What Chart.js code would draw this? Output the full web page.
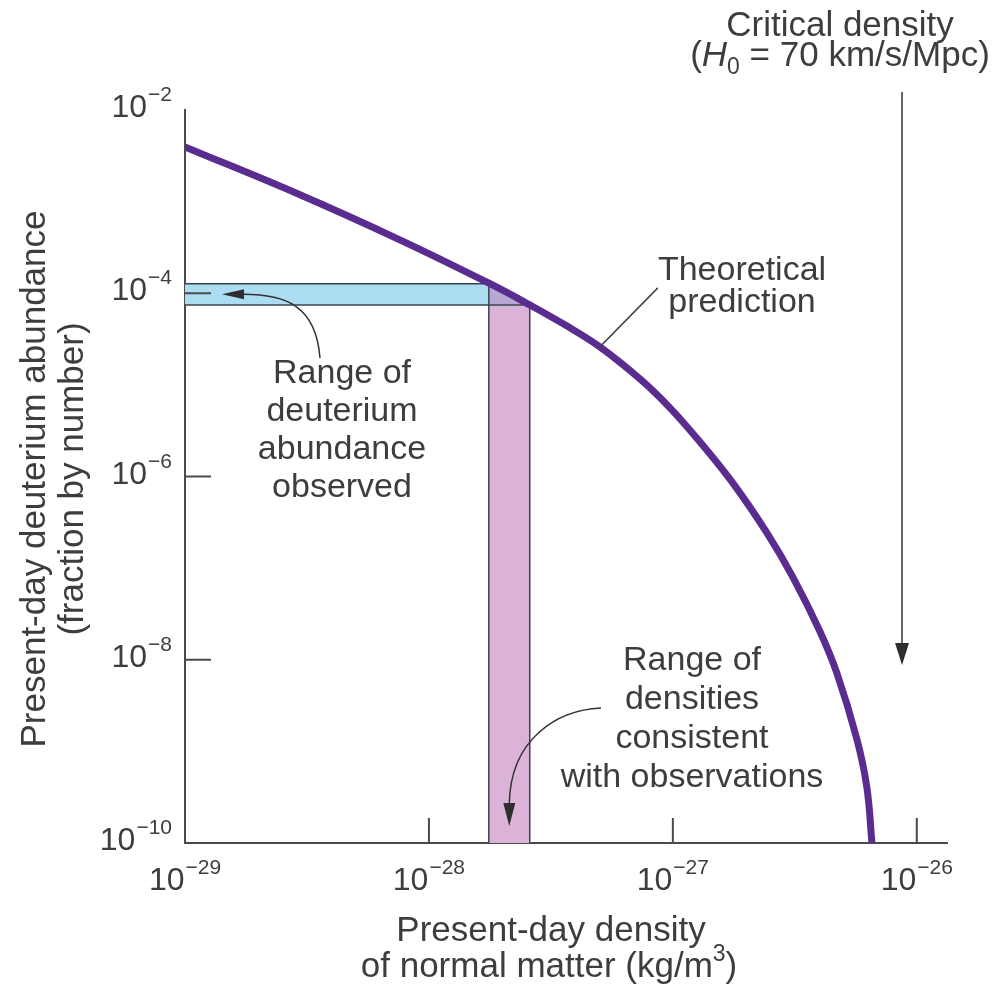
<!DOCTYPE html>
<html>
<head>
<meta charset="utf-8">
<style>
  html, body { margin: 0; padding: 0; background: #fff; }
  canvas { display: block; }
</style>
<script src="https://cdn.jsdelivr.net/npm/chart.js@4.4.0/dist/chart.umd.min.js"></script>
</head>
<body>
<canvas id="chart" width="994" height="985"></canvas>
<script>
// values (both axes logarithmic)

// theoretical prediction curve
const densityTheory   = [1.0e-29, 2.96e-29, 7.6e-29, 1.78e-28, 2.59e-28, 3.61e-28, 5.02e-28, 7.33e-28,
                         9.73e-28, 1.29e-27, 1.76e-27, 2.43e-27, 3.10e-27, 4.00e-27, 4.70e-27, 5.68e-27,
                         6.24e-27, 6.55e-27]
const deuteriumTheory = [3.96e-3, 1.19e-3, 3.83e-4, 1.27e-4, 7.46e-5, 4.52e-5, 2.60e-5, 1.16e-5,
                         5.61e-6, 2.39e-6, 8.51e-7, 2.42e-7, 8.02e-8, 2.06e-8, 7.18e-9, 1.36e-9,
                         4.08e-10, 1.0e-10]

// observed ranges  [low, high]
const deuteriumObserved = [7.46e-5, 1.27e-4]
const densityConsistent = [1.76e-28, 2.59e-28]

const criticalDensity = 8.7e-27   // H0 = 70 km/s/Mpc

const xTicks = [1e-29, 1e-28, 1e-27, 1e-26]
const yTicks = [1e-10, 1e-8, 1e-6, 1e-4, 1e-2]
const xRange = [1e-29, 1.33e-26]
const yRange = [1e-10, 1e-2]

const FONT = '"Liberation Sans", Arial, Helvetica, sans-serif'
const TEXT = '#3d3d3d'
const LINE = '#3a4450'

const pts = (xs, ys) => xs.map((x, i) => ({ x: x, y: ys[i] }))
const [dLo, dHi] = deuteriumObserved
const [rLo, rHi] = densityConsistent

function outline(data) {
    return { data: data, borderColor: LINE, borderWidth: 1.5, pointRadius: 0, fill: false, tension: 0, order: 1 }
}

// "10" with a raised exponent
function powLabel(ctx, v, x, y, align) {
    const exp = Math.round(Math.log10(v))
    const sup = (exp < 0 ? '\u2212' : '') + Math.abs(exp)
    ctx.font = '32px ' + FONT
    const wb = ctx.measureText('10').width
    ctx.font = '21px ' + FONT
    const ws = ctx.measureText(sup).width
    const total = wb + 1 + ws
    const left = align === 'right' ? x - total : x - total / 2
    ctx.textAlign = 'left'
    ctx.font = '32px ' + FONT
    ctx.fillText('10', left, y)
    ctx.font = '21px ' + FONT
    ctx.fillText(sup, left + wb + 1, y - 16)
}

function lines(ctx, arr, x, y0, step, size) {
    ctx.font = size + 'px ' + FONT
    ctx.textAlign = 'center'
    arr.forEach((s, i) => ctx.fillText(s, x, y0 + i * step))
}

function arrowHead(ctx, tipX, tipY, dir, len, half) {
    // dir: 'down' or 'left'
    ctx.beginPath()
    ctx.moveTo(tipX, tipY)
    if (dir === 'down') {
        ctx.lineTo(tipX - half, tipY - len)
        ctx.lineTo(tipX + half, tipY - len)
    } else {
        ctx.lineTo(tipX + len, tipY - half)
        ctx.lineTo(tipX + len, tipY + half)
    }
    ctx.closePath()
    ctx.fill()
}

const decorations = {
    id: 'decorations',
    afterDraw(chart) {
        const ctx = chart.ctx
        const xs = chart.scales.x
        const ys = chart.scales.y
        const area = chart.chartArea
        ctx.save()
        ctx.fillStyle = TEXT
        ctx.strokeStyle = '#4a4a4a'
        ctx.textBaseline = 'alphabetic'

        // inner tick marks
        ctx.lineWidth = 2
        xTicks.forEach(v => {
            if (v === xRange[0]) return
            const px = xs.getPixelForValue(v)
            ctx.beginPath(); ctx.moveTo(px, area.bottom); ctx.lineTo(px, area.bottom - 25); ctx.stroke()
        })
        yTicks.forEach(v => {
            if (v === yRange[0] || v === yRange[1]) return
            const py = ys.getPixelForValue(v)
            ctx.beginPath(); ctx.moveTo(area.left, py); ctx.lineTo(area.left + 26, py); ctx.stroke()
        })

        // tick labels
        xTicks.forEach(v => powLabel(ctx, v, xs.getPixelForValue(v), area.bottom + 47, 'center'))
        yTicks.forEach(v => powLabel(ctx, v, area.left - 13, ys.getPixelForValue(v) + 7, 'right'))

        // x title
        ctx.font = '35px ' + FONT
        ctx.textAlign = 'center'
        ctx.fillText('Present-day density', 551, 941)
        const t1 = 'of normal matter (kg/m', t2 = '3', t3 = ')'
        const w1 = ctx.measureText(t1).width, w3 = ctx.measureText(t3).width
        ctx.font = '23px ' + FONT
        const w2 = ctx.measureText(t2).width
        let lx = 549 - (w1 + w2 + w3) / 2
        ctx.textAlign = 'left'
        ctx.font = '35px ' + FONT
        ctx.fillText(t1, lx, 977)
        ctx.font = '23px ' + FONT
        ctx.fillText(t2, lx + w1, 961)
        ctx.font = '35px ' + FONT
        ctx.fillText(t3, lx + w1 + w2, 977)

        // y title
        ctx.save()
        ctx.translate(0, 479)
        ctx.rotate(-Math.PI / 2)
        ctx.textAlign = 'center'
        ctx.font = '35px ' + FONT
        ctx.fillText('Present-day deuterium abundance', 0, 45)
        ctx.fillText('(fraction by number)', 0, 83)
        ctx.restore()

        // annotations
        lines(ctx, ['Theoretical', 'prediction'], 742, 280, 32, 34)
        lines(ctx, ['Range of', 'deuterium', 'abundance', 'observed'], 342, 383, 38, 34)
        lines(ctx, ['Range of', 'densities', 'consistent', 'with observations'], 692, 670, 39, 34)
        lines(ctx, ['Critical density'], 840, 36, 0, 35)

        // (H0 = 70 km/s/Mpc)
        const pA = '(', pH = 'H', p0 = '0', pB = ' = 70 km/s/Mpc)'
        ctx.font = '35px ' + FONT
        const wA = ctx.measureText(pA).width, wB = ctx.measureText(pB).width
        ctx.font = 'italic 35px ' + FONT
        const wH = ctx.measureText(pH).width
        ctx.font = '23px ' + FONT
        const w0 = ctx.measureText(p0).width
        let hx = 840 - (wA + wH + w0 + wB) / 2
        ctx.textAlign = 'left'
        ctx.font = '35px ' + FONT; ctx.fillText(pA, hx, 66); hx += wA
        ctx.font = 'italic 35px ' + FONT; ctx.fillText(pH, hx, 66); hx += wH
        ctx.font = '23px ' + FONT; ctx.fillText(p0, hx, 74); hx += w0
        ctx.font = '35px ' + FONT; ctx.fillText(pB, hx, 66)

        // arrows
        ctx.strokeStyle = '#333'
        ctx.fillStyle = '#2e2e2e'
        ctx.lineWidth = 1.5

        const cx = xs.getPixelForValue(criticalDensity)
        ctx.beginPath(); ctx.moveTo(cx, 92); ctx.lineTo(cx, 645); ctx.stroke()
        arrowHead(ctx, cx, 665, 'down', 22, 7)

        const dy = ys.getPixelForValue(Math.sqrt(dLo * dHi))
        ctx.beginPath(); ctx.moveTo(320, 358); ctx.bezierCurveTo(316, 305, 285, dy, 243, dy); ctx.stroke()
        arrowHead(ctx, area.left + 37, dy, 'left', 22, 5)

        const rx = xs.getPixelForValue(Math.sqrt(rLo * rHi))
        ctx.beginPath(); ctx.moveTo(601, 708); ctx.bezierCurveTo(558, 710, rx + 1, 738, rx, 804); ctx.stroke()
        arrowHead(ctx, rx, 826, 'down', 23, 6)

        // leader to the curve
        const p = chart.getDatasetMeta(0).data[6]
        ctx.strokeStyle = '#444'
        ctx.beginPath(); ctx.moveTo(p.x, p.y); ctx.lineTo(p.x + 58, p.y - 59); ctx.stroke()

        ctx.restore()
    }
}

new Chart(document.getElementById('chart'), {
    type: 'line',
    data: {
        datasets: [
            {
                label: 'Theoretical prediction',
                data: pts(densityTheory, deuteriumTheory),
                borderColor: '#5b2c8f',
                borderWidth: 7,
                pointRadius: 0,
                tension: 0.4,
                fill: false,
                order: 0
            },
            // band outlines
            outline([{ x: xRange[0], y: dHi }, { x: rLo, y: dHi }]),
            outline([{ x: xRange[0], y: dLo }, { x: rHi, y: dLo }]),
            outline([{ x: rLo, y: dHi }, { x: rLo, y: yRange[0] }]),
            outline([{ x: rHi, y: dLo }, { x: rHi, y: yRange[0] }]),
            // overlap of both ranges
            {
                data: [{ x: rLo, y: dHi }, { x: rHi, y: dLo }],
                fill: { value: dLo },
                backgroundColor: '#b5a8d5',
                borderWidth: 0, pointRadius: 0, tension: 0, order: 2
            },
            // densities consistent with observations
            {
                data: [{ x: rLo, y: dHi }, { x: rHi, y: dLo }],
                fill: 'start',
                backgroundColor: '#dbb3d8',
                borderWidth: 0, pointRadius: 0, tension: 0, order: 3
            },
            // deuterium abundance observed
            {
                data: [{ x: xRange[0], y: dHi }, { x: rLo, y: dHi }, { x: rHi, y: dLo }],
                fill: { value: dLo },
                backgroundColor: '#abdcf2',
                borderWidth: 0, pointRadius: 0, tension: 0, order: 4
            }
        ]
    },
    options: {
        responsive: false,
        animation: false,
        devicePixelRatio: 1,
        events: [],
        layout: { padding: { left: 185, top: 110, right: 47, bottom: 142 } },
        plugins: { legend: { display: false }, tooltip: { enabled: false } },
        scales: {
            x: {
                type: 'logarithmic',
                min: xRange[0], max: xRange[1],
                z: 1,
                afterBuildTicks: s => { s.ticks = xTicks.map(v => ({ value: v })) },
                ticks: { display: false },
                grid: { display: false, drawTicks: false },
                border: { display: true, color: '#4a4a4a', width: 2 }
            },
            y: {
                type: 'logarithmic',
                min: yRange[0], max: yRange[1],
                z: 1,
                afterBuildTicks: s => { s.ticks = yTicks.map(v => ({ value: v })) },
                ticks: { display: false },
                grid: { display: false, drawTicks: false },
                border: { display: true, color: '#4a4a4a', width: 2 }
            }
        }
    },
    plugins: [decorations]
})
</script>
</body>
</html>
